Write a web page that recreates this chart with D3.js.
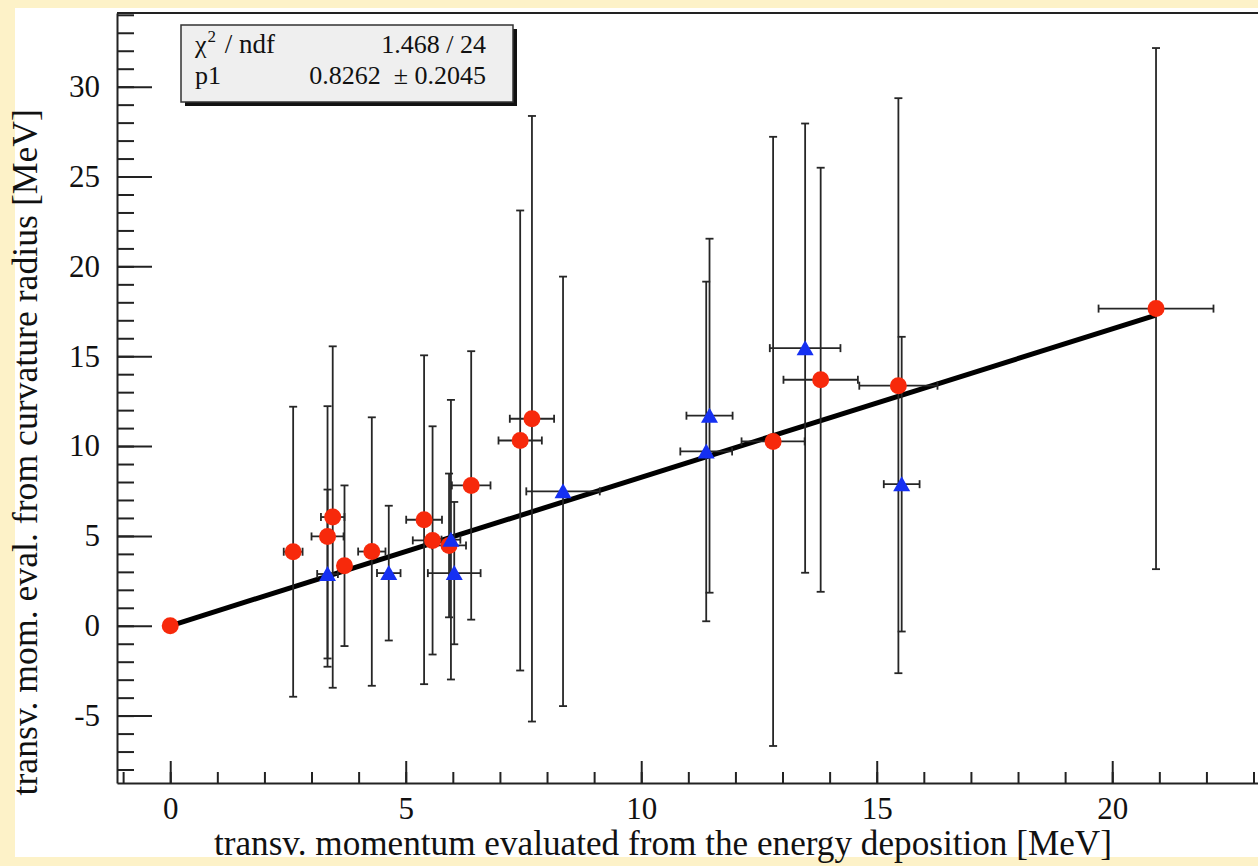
<!DOCTYPE html>
<html>
<head>
<meta charset="utf-8">
<script src="https://cdn.jsdelivr.net/npm/d3@7"></script>
<style>
  html, body { margin: 0; padding: 0; background: #fdf2c8; }
  svg { display: block; }
  text { font-family: "Liberation Serif", "DejaVu Serif", serif; fill: #111; }
</style>
</head>
<body>
<svg id="chart" width="1258" height="866"></svg>
<script>
// Circle-marker series (red)
const redX  = [0, 2.61, 3.34, 3.45, 3.70, 4.28, 5.39, 5.57, 5.92, 6.39, 7.43, 7.68, 12.80, 13.81, 15.46, 20.93];
const redY  = [0, 4.12, 4.97, 6.05, 3.34, 4.13, 5.90, 4.75, 4.47, 7.81, 10.31, 11.52, 10.26, 13.69, 13.36, 17.65];
const redEX = [0, 0.20, 0.34, 0.25, 0.12, 0.29, 0.38, 0.42, 0.36, 0.41, 0.46, 0.47, 0.67, 0.79, 0.83, 1.22];
const redEY = [0, 8.07, 7.25, 9.50, 4.47, 7.47, 9.15, 6.35, 4.00, 7.47, 12.80, 16.85, 16.95, 11.80, 16.00, 14.50];

// Triangle-marker series (blue)
const blueX  = [3.34, 4.64, 5.96, 6.03, 8.34, 11.38, 11.45, 13.48, 15.53];
const blueY  = [2.88, 2.93, 4.79, 2.93, 7.48, 9.70, 11.69, 15.45, 7.88];
const blueEX = [0.22, 0.25, 0.20, 0.56, 0.78, 0.55, 0.49, 0.75, 0.38];
const blueEY = [4.70, 3.75, 7.78, 3.96, 11.95, 9.45, 9.85, 12.50, 8.20];

// Linear fit through the origin, y = p1 * x
const fitP1 = 0.8262;
const fitP1Err = 0.2045;
const fitChi2 = "1.468";
const fitNdf = 24;

// Axis ticks
const xMajorTicks = [0, 5, 10, 15, 20];
const xMinorTicks = d3.range(-1, 24);
const yMajorTicks = [-5, 0, 5, 10, 15, 20, 25, 30];
const yMinorTicks = d3.range(-8, 35);

const xTitle = "transv. momentum evaluated from the energy deposition [MeV]";
const yTitle = "transv. mom. eval. from curvature radius [MeV]";

const svg = d3.select("#chart");
const W = 1258, H = 866;

// Canvas: cream surround with a white pad
svg.append("rect").attr("width", W).attr("height", H).attr("fill", "#fdf2c8");
svg.append("rect").attr("x", 15).attr("y", 8).attr("width", W - 15).attr("height", 849).attr("fill", "#ffffff");

const plotLeft = 117, plotTop = 13, plotBottom = 783;
const x = d3.scaleLinear().domain([-1.13, 23.4]).range([plotLeft, plotLeft + 24.53 * 47.1]);
const y = d3.scaleLinear().domain([-8.75, 34.1]).range([plotBottom, plotTop]);

const ink = "#222";

// Frame top edge
svg.append("line")
  .attr("x1", plotLeft).attr("x2", W + 10)
  .attr("y1", plotTop).attr("y2", plotTop)
  .attr("stroke", ink).attr("stroke-width", 2);

// Y axis: minor ticks, then major ticks with labels
const yMinor = svg.append("g").attr("transform", `translate(${plotLeft},0)`)
  .call(d3.axisLeft(y).tickValues(yMinorTicks).tickSizeInner(-17).tickSizeOuter(0).tickFormat(""));
yMinor.select(".domain").remove();
yMinor.selectAll("line").attr("stroke", ink).attr("stroke-width", 2);

const yMajor = svg.append("g").attr("transform", `translate(${plotLeft},0)`)
  .call(d3.axisLeft(y).tickValues(yMajorTicks).tickSizeInner(-35).tickSizeOuter(0).tickPadding(17)
    .tickFormat(d3.format("d")));
yMajor.select(".domain").attr("stroke", ink).attr("stroke-width", 2);
yMajor.selectAll("line").attr("stroke", ink).attr("stroke-width", 2);
yMajor.selectAll("text")
  .style("font-family", '"Liberation Serif", serif').style("font-size", "31px").attr("fill", "#111")
  .text(d => d < 0 ? "-" + Math.abs(d) : String(d));

// X axis
const xMinor = svg.append("g").attr("transform", `translate(0,${plotBottom})`)
  .call(d3.axisBottom(x).tickValues(xMinorTicks).tickSizeInner(-11).tickSizeOuter(0).tickFormat(""));
xMinor.select(".domain").remove();
xMinor.selectAll("line").attr("stroke", ink).attr("stroke-width", 2);

const xMajor = svg.append("g").attr("transform", `translate(0,${plotBottom})`)
  .call(d3.axisBottom(x).tickValues(xMajorTicks).tickSizeInner(-22).tickSizeOuter(0).tickPadding(14)
    .tickFormat(d3.format("d")));
xMajor.select(".domain").attr("stroke", ink).attr("stroke-width", 2);
xMajor.selectAll("line").attr("stroke", ink).attr("stroke-width", 2);
xMajor.selectAll("text")
  .style("font-family", '"Liberation Serif", serif').style("font-size", "31px").attr("fill", "#111");

// Axis titles
svg.append("text")
  .attr("x", 1112).attr("y", 855)
  .attr("text-anchor", "end")
  .style("font-size", "35.2px")
  .text(xTitle);

svg.append("text")
  .attr("transform", "translate(37,109) rotate(-90)")
  .attr("text-anchor", "end")
  .style("font-size", "35.7px")
  .text(yTitle);

// Fit line
const fitX = [0, d3.max(redX)];
svg.append("path")
  .datum(fitX)
  .attr("d", d3.line().x(d => x(d)).y(d => y(fitP1 * d)))
  .attr("stroke", "#000").attr("stroke-width", 5).attr("fill", "none");

// Error bars with end caps
function errorBars(xs, ys, exs, eys) {
  const pts = xs.map((v, i) => ({ x: v, y: ys[i], ex: exs[i], ey: eys[i] }));
  const g = svg.append("g").attr("stroke", "#262626").attr("stroke-width", 1.8);
  pts.filter(p => p.ey > 0).forEach(p => {
    const cx = x(p.x), y0 = y(p.y - p.ey), y1 = y(p.y + p.ey);
    g.append("line").attr("x1", cx).attr("x2", cx).attr("y1", y0).attr("y2", y1);
    g.append("line").attr("x1", cx - 4).attr("x2", cx + 4).attr("y1", y0).attr("y2", y0);
    g.append("line").attr("x1", cx - 4).attr("x2", cx + 4).attr("y1", y1).attr("y2", y1);
  });
  pts.filter(p => p.ex > 0).forEach(p => {
    const cy = y(p.y), x0 = x(p.x - p.ex), x1 = x(p.x + p.ex);
    g.append("line").attr("x1", x0).attr("x2", x1).attr("y1", cy).attr("y2", cy);
    g.append("line").attr("x1", x0).attr("x2", x0).attr("y1", cy - 4).attr("y2", cy + 4);
    g.append("line").attr("x1", x1).attr("x2", x1).attr("y1", cy - 4).attr("y2", cy + 4);
  });
}
errorBars(redX, redY, redEX, redEY);
errorBars(blueX, blueY, blueEX, blueEY);

// Markers
svg.append("g").selectAll("circle")
  .data(redX.map((v, i) => [v, redY[i]]))
  .join("circle")
  .attr("cx", d => x(d[0])).attr("cy", d => y(d[1]))
  .attr("r", 8.5)
  .attr("fill", "#f7290b");

svg.append("g").selectAll("path")
  .data(blueX.map((v, i) => [v, blueY[i]]))
  .join("path")
  .attr("transform", d => `translate(${x(d[0])},${y(d[1])})`)
  .attr("d", "M0,-8 L8.5,7 L-8.5,7 Z")
  .attr("fill", "#1530f2");

// Fit statistics box
const box = { x: 181, y: 25, w: 332, h: 77 };
svg.append("rect")
  .attr("x", box.x + 4).attr("y", box.y + 4).attr("width", box.w).attr("height", box.h)
  .attr("fill", "#111");
svg.append("rect")
  .attr("x", box.x).attr("y", box.y).attr("width", box.w).attr("height", box.h)
  .attr("fill", "#efefef").attr("stroke", "#333").attr("stroke-width", 1.5);

const statRows = [
  { label: "χ", sup: "2", rest: " / ndf", value: `${fitChi2} / ${fitNdf}`, base: 53 },
  { label: "p1", sup: null, rest: "", value: `${fitP1.toFixed(4)}  \u00b1 ${fitP1Err.toFixed(4)}`, base: 84 }
];
statRows.forEach(r => {
  const t = svg.append("text").attr("x", 195).attr("y", r.base).style("font-size", "26px");
  t.append("tspan").text(r.label);
  if (r.sup) t.append("tspan").attr("dx", 1).attr("dy", -11).style("font-size", "17px").text(r.sup);
  if (r.rest) t.append("tspan").attr("dx", 2).attr("dy", r.sup ? 11 : 0).style("font-size", "27px").text(r.rest);
  svg.append("text").attr("x", 486).attr("y", r.base).attr("text-anchor", "end")
    .style("font-size", "26px").style("white-space", "pre").attr("xml:space", "preserve").text(r.value);
});
</script>
</body>
</html>
